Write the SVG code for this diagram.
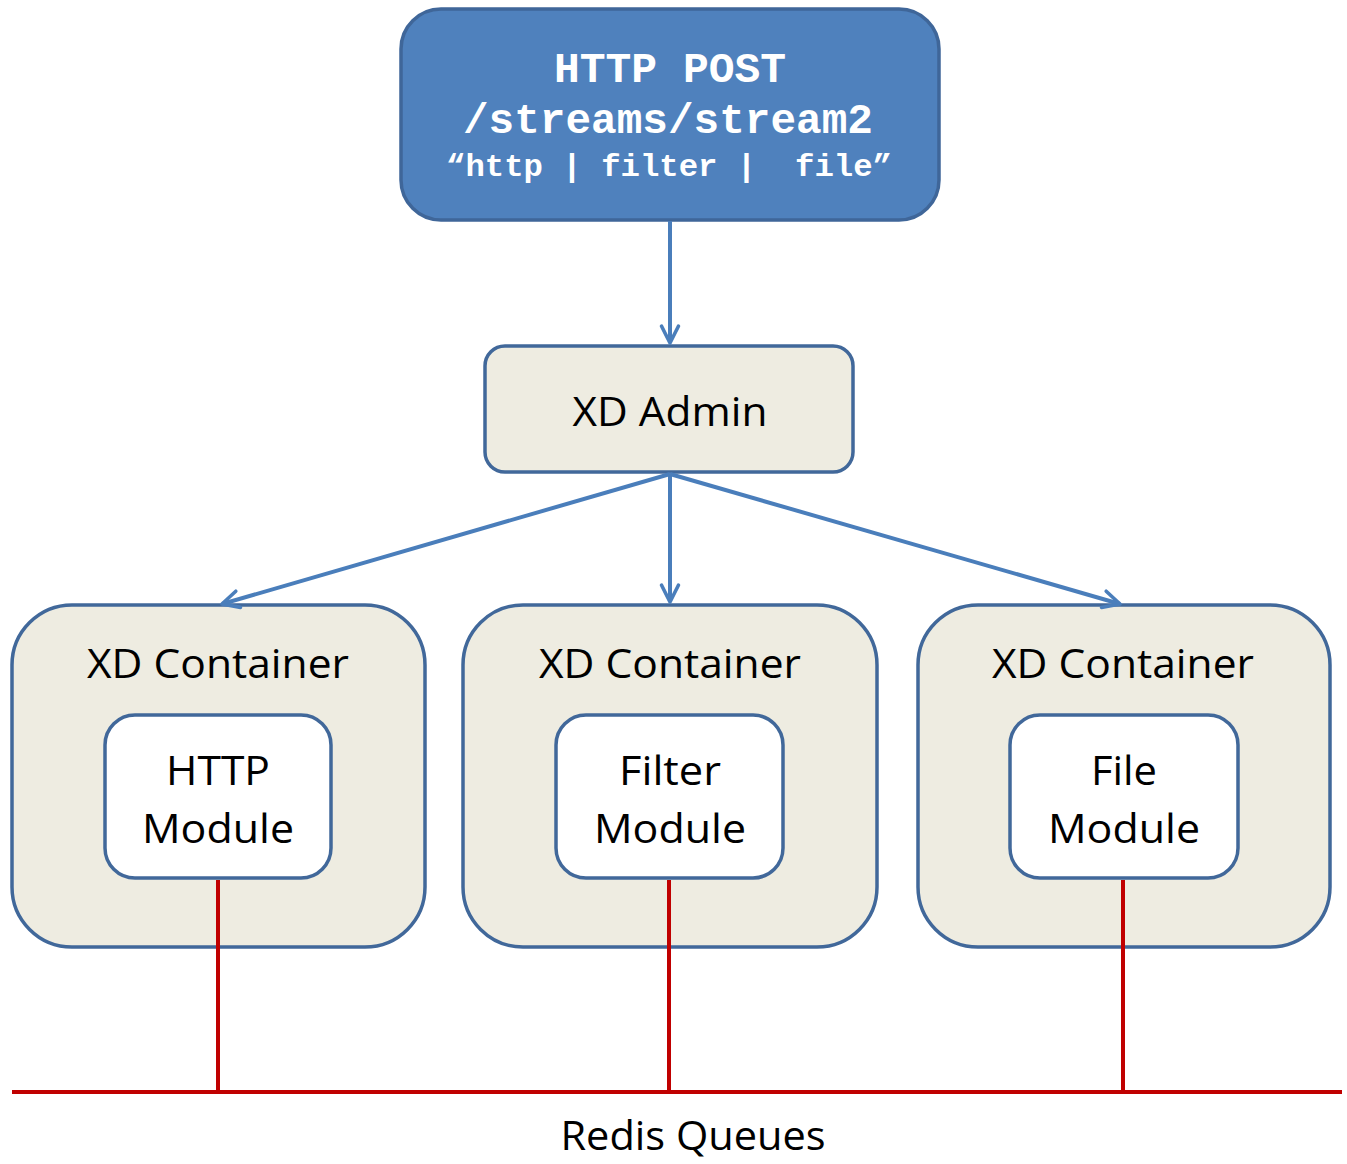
<svg xmlns="http://www.w3.org/2000/svg" width="1347" height="1164" viewBox="0 0 1347 1164">
<defs>
<style>
.blue{fill:#4F81BD;stroke:#3F6699;stroke-width:3.5}
.beige{fill:#EEECE1;stroke:#41689A;stroke-width:3.5}
.mod{fill:#FFFFFF;stroke:#41689A;stroke-width:3.5}
.mono{font-family:"Liberation Mono","Courier New",monospace;font-weight:bold;fill:#FFFFFF;text-anchor:middle;white-space:pre}
.lbl{font-family:"Open Sans","Noto Sans",sans-serif;fill:#000000;text-anchor:middle;font-size:41px}
.arr{stroke:#4A7EBB;stroke-width:4;fill:none;marker-end:url(#ah)}
.red{stroke:#C00000;stroke-width:4;fill:none}
</style>
<marker id="ah" viewBox="0 0 20 20" refX="18" refY="10" markerWidth="6" markerHeight="6" markerUnits="strokeWidth" orient="auto">
<path d="M4,3 L18,10 L4,17" fill="none" stroke="#4A7EBB" stroke-width="3" stroke-linecap="round" stroke-linejoin="round"/>
</marker>
</defs>

<g id="http-post">
<rect class="blue" x="401" y="9" width="538" height="211" rx="40"/>
<text class="mono" x="670" y="82" font-size="43" textLength="232" lengthAdjust="spacingAndGlyphs">HTTP POST</text>
<text class="mono" x="668" y="133" font-size="43" textLength="410" lengthAdjust="spacingAndGlyphs">/streams/stream2</text>
<text class="mono" x="669" y="176" font-size="32" textLength="446" lengthAdjust="spacingAndGlyphs" xml:space="preserve">“http | filter |  file”</text>
</g>

<g id="xd-admin">
<rect class="beige" x="485" y="346" width="368" height="126" rx="20"/>
<text class="lbl" x="670" y="426" textLength="195" lengthAdjust="spacingAndGlyphs">XD Admin</text>
</g>

<g id="container-1">
<rect class="beige" x="12" y="605" width="413" height="342" rx="60"/>
<text class="lbl" x="218" y="678" textLength="262" lengthAdjust="spacingAndGlyphs">XD Container</text>
</g>
<g id="http-module">
<rect class="mod" x="105" y="715" width="226" height="163" rx="30"/>
<text class="lbl" x="218" y="785" textLength="104" lengthAdjust="spacingAndGlyphs">HTTP</text>
<text class="lbl" x="218" y="843" textLength="152" lengthAdjust="spacingAndGlyphs">Module</text>
</g>

<g id="container-2">
<rect class="beige" x="463" y="605" width="414" height="342" rx="60"/>
<text class="lbl" x="670" y="678" textLength="262" lengthAdjust="spacingAndGlyphs">XD Container</text>
</g>
<g id="filter-module">
<rect class="mod" x="556" y="715" width="227" height="163" rx="30"/>
<text class="lbl" x="670" y="785" textLength="102" lengthAdjust="spacingAndGlyphs">Filter</text>
<text class="lbl" x="670" y="843" textLength="152" lengthAdjust="spacingAndGlyphs">Module</text>
</g>

<g id="container-3">
<rect class="beige" x="918" y="605" width="412" height="342" rx="60"/>
<text class="lbl" x="1123" y="678" textLength="262" lengthAdjust="spacingAndGlyphs">XD Container</text>
</g>
<g id="file-module">
<rect class="mod" x="1010" y="715" width="228" height="163" rx="30"/>
<text class="lbl" x="1124" y="785" textLength="66" lengthAdjust="spacingAndGlyphs">File</text>
<text class="lbl" x="1124" y="843" textLength="152" lengthAdjust="spacingAndGlyphs">Module</text>
</g>

<g id="redis-queues">
<text class="lbl" x="693" y="1150" font-size="39" textLength="265" lengthAdjust="spacingAndGlyphs">Redis Queues</text>
</g>

<g id="connectors">
<line class="arr" x1="670" y1="221" x2="670" y2="343"/>
<line class="arr" x1="670" y1="474" x2="222" y2="604"/>
<line class="arr" x1="670" y1="474" x2="670" y2="602"/>
<line class="arr" x1="670" y1="474" x2="1120" y2="604"/>
<line class="red" x1="218" y1="880" x2="218" y2="1092"/>
<line class="red" x1="669" y1="880" x2="669" y2="1092"/>
<line class="red" x1="1123" y1="880" x2="1123" y2="1092"/>
<line class="red" x1="12" y1="1092" x2="1342" y2="1092"/>
</g>
</svg>
